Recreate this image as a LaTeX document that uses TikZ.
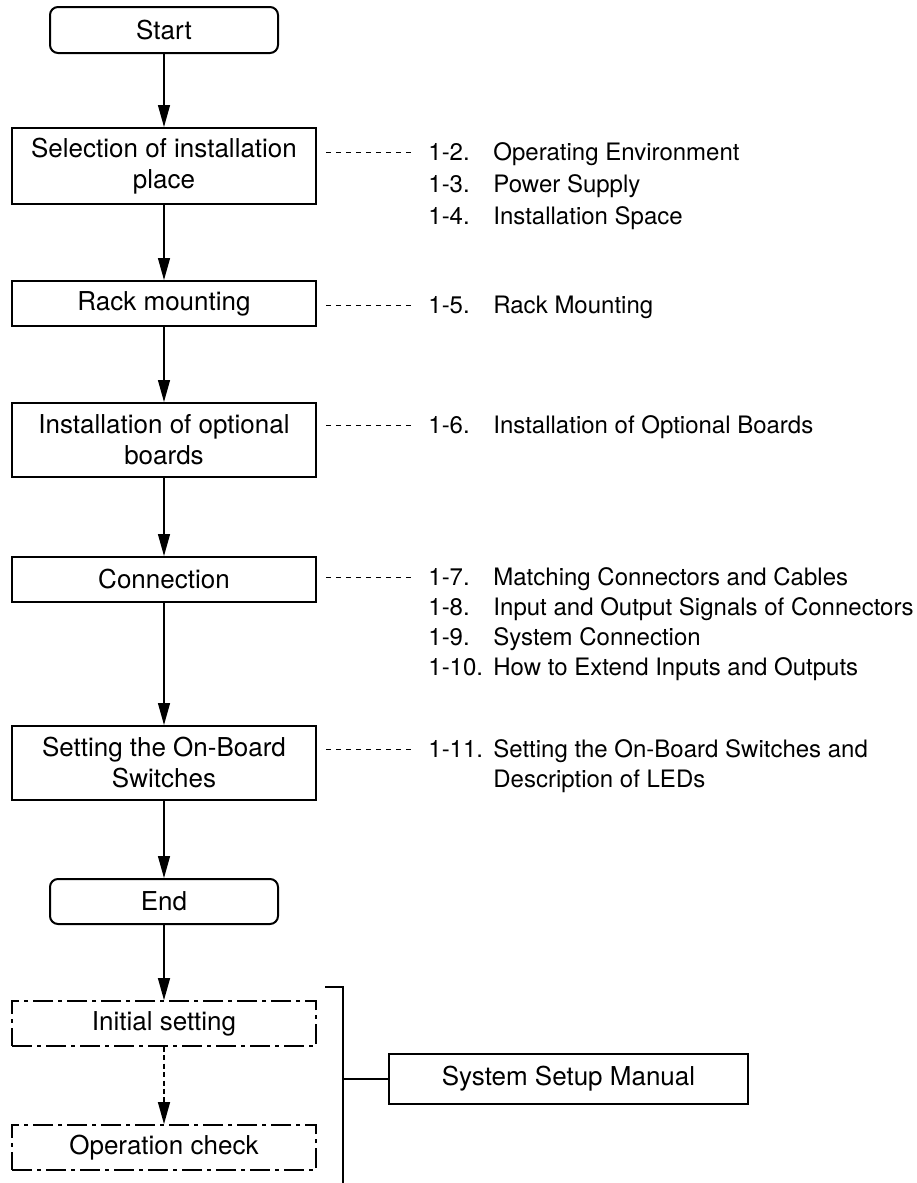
\documentclass[tikz,border=0pt]{standalone}
\usepackage{fontspec}
\setmainfont{TeX Gyre Heros}
\usetikzlibrary{arrows.meta}
\begin{document}
\begin{tikzpicture}[x=0.5pt,y=-0.5pt,
  box/.style={draw, line width=1pt, minimum width=152pt, inner sep=0pt, align=center,
    font=\fontsize{13}{15.5}\selectfont},
  term/.style={box, rounded corners=4pt, minimum width=114pt, minimum height=23pt},
  dashdotbox/.style={box, line width=0.9pt, dash pattern=on 10pt off 2.5pt on 2pt off 2.5pt, minimum height=22.5pt},
  arr/.style={-{Triangle[length=11pt,width=6pt]}, line width=0.65pt},
  dotarr/.style={arr, dash pattern=on 2.5pt off 1.7pt},
  refdash/.style={line width=0.5pt, dash pattern=on 2.5pt off 2.5pt, shorten <=4.5pt},
  listtxt/.style={inner sep=0pt, anchor=base west, align=left},
]
\useasboundingbox (0,0) rectangle (916,1183);

% main flow
\node[term] (start) at (164,30) {Start};
\node[box, minimum height=38pt] (sel) at (164,166) {Selection of installation\\place};
\node[box, minimum height=22.5pt] (rack) at (164,303.5) {Rack mounting};
\node[box, minimum height=37pt] (opt) at (164,440) {Installation of optional\\boards};
\node[box, minimum height=22.5pt] (conn) at (164,579.5) {Connection};
\node[box, minimum height=37pt] (sw) at (164,763) {Setting the On-Board\\Switches};
\node[term, minimum height=22.5pt] (end) at (164,901.5) {End};
\node[dashdotbox] (init) at (164,1023.5) {Initial setting};
\node[dashdotbox] (opc) at (164,1147.5) {Operation check};
\node[box, minimum width=179.5pt, minimum height=25pt] (ssm) at (568.5,1079) {System Setup Manual};

\draw[arr] (start) -- (sel);
\draw[arr] (sel) -- (rack);
\draw[arr] (rack) -- (opt);
\draw[arr] (opt) -- (conn);
\draw[arr] (conn) -- (sw);
\draw[arr] (sw) -- (end);
\draw[arr] (end) -- (init);
\draw[dotarr] (init) -- (opc);

% reference lists
\coordinate (r1) at (415,152);
\coordinate (r2) at (415,305);
\coordinate (r3) at (415,425);
\coordinate (r4) at (415,577);
\coordinate (r5) at (415,749);
\draw[refdash] (sel.east |- r1) -- (r1);
\draw[refdash] (rack.east |- r2) -- (r2);
\draw[refdash] (opt.east |- r3) -- (r3);
\draw[refdash] (conn.east |- r4) -- (r4);
\draw[refdash] (sw.east |- r5) -- (r5);

\node[listtxt] (l1) at (428,160.5) {\fontsize{12}{16}\selectfont
  \begin{tabular}[t]{@{}l@{}}
  \makebox[32.5pt][l]{1-2.}Operating Environment\\
  \makebox[32.5pt][l]{1-3.}Power Supply\\
  \makebox[32.5pt][l]{1-4.}Installation Space
  \end{tabular}};
\node[listtxt] (l2) at (428,313.5) {\fontsize{12}{15}\selectfont
  \begin{tabular}[t]{@{}l@{}}
  \makebox[32.5pt][l]{1-5.}Rack Mounting
  \end{tabular}};
\node[listtxt] (l3) at (428,433.5) {\fontsize{12}{15}\selectfont
  \begin{tabular}[t]{@{}l@{}}
  \makebox[32.5pt][l]{1-6.}Installation of Optional Boards
  \end{tabular}};
\node[listtxt] (l4) at (428,585.5) {\fontsize{12}{15}\selectfont
  \begin{tabular}[t]{@{}l@{}}
  \makebox[32.5pt][l]{1-7.}Matching Connectors and Cables\\
  \makebox[32.5pt][l]{1-8.}Input and Output Signals of Connectors\\
  \makebox[32.5pt][l]{1-9.}System Connection\\
  \makebox[32.5pt][l]{1-10.}How to Extend Inputs and Outputs
  \end{tabular}};
\node[listtxt] (l5) at (428,757.5) {\fontsize{12}{15}\selectfont
  \begin{tabular}[t]{@{}l@{}}
  \makebox[32.5pt][l]{1-11.}Setting the On-Board Switches and\\
  \hspace*{32.5pt}Description of LEDs
  \end{tabular}};

% bracket to System Setup Manual
\coordinate (bt0) at (325,987);
\coordinate (bt1) at (343,987);
\coordinate (bb) at (343,1183);
\draw[line width=1pt] (bt0) -- (bt1) -- (bb);
\draw[line width=0.75pt] (ssm.west -| bt1) -- (ssm.west);
\end{tikzpicture}
\end{document}
